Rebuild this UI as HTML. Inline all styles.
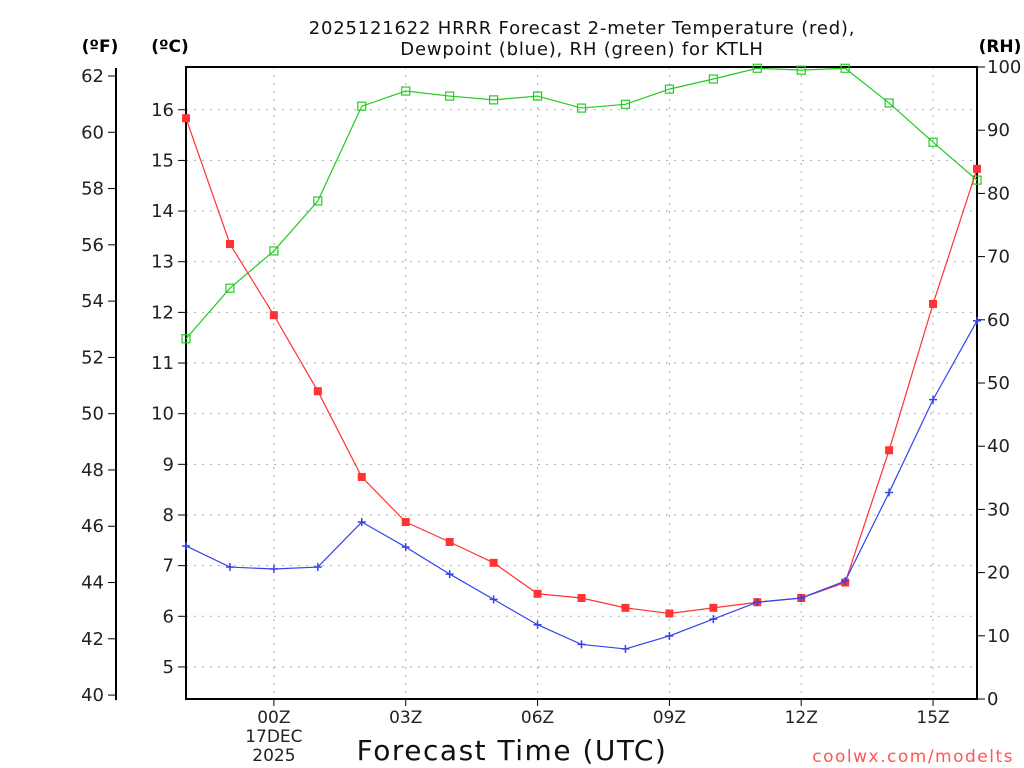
<!DOCTYPE html>
<html><head><meta charset="utf-8"><style>
body{margin:0;background:#fff;}
svg{display:block;font-family:"DejaVu Sans","Liberation Sans",sans-serif;}
</style></head><body>
<svg id="c" width="1024" height="768">
<g id="g"></g>
</svg>
<script>
const hours=["22","23","00","01","02","03","04","05","06","07","08","09","10","11","12","13","14","15","16"];
const tempF=[60.5,56.03,53.5,50.8,47.75,46.15,45.44,44.7,43.6,43.45,43.1,42.9,43.1,43.3,43.45,44.0,48.7,53.9,58.7];
const dewF=[45.3,44.55,44.48,44.55,46.15,45.26,44.3,43.4,42.5,41.8,41.64,42.1,42.7,43.3,43.45,44.05,47.2,50.5,53.3];
const rh=[57,65,70.9,78.8,93.8,96.2,95.4,94.8,95.4,93.5,94.1,96.5,98.1,99.8,99.5,99.8,94.3,88.1,82.1];
const fTicks=[40,42,44,46,48,50,52,54,56,58,60,62];
const cTicks=[5,6,7,8,9,10,11,12,13,14,15,16];
const rhTicks=[0,10,20,30,40,50,60,70,80,90,100];
const xLabels=[[2,"00Z"],[5,"03Z"],[8,"06Z"],[11,"09Z"],[14,"12Z"],[17,"15Z"]];

const L=186,R=977,T=67,B=699,NS="http://www.w3.org/2000/svg";
const X=i=>L+i*(R-L)/(hours.length-1);
const YF=f=>76+(62-f)*28.14;
const YC=c=>YF(c*1.8+32);
const YR=r=>B-r*(B-T)/100;
const g=document.getElementById('g');
function el(t,a,txt){const e=document.createElementNS(NS,t);for(const k in a)e.setAttribute(k,a[k]);if(txt!==undefined)e.textContent=txt;g.appendChild(e);return e;}

cTicks.forEach(c=>{const e=el('line',{x1:L,x2:R,y1:YC(c),y2:YC(c),stroke:'#aaa','stroke-dasharray':'2,6'});

});
xLabels.forEach(([i,s])=>{const e=el('line',{x1:X(i),x2:X(i),y1:T,y2:B,stroke:'#aaa','stroke-dasharray':'2,6'});


const t=el('line',{x1:X(i),x2:X(i),y1:B,y2:B+7,stroke:'#000'});


const l=el('text',{x:X(i),y:723,'text-anchor':'middle','font-size':17,fill:'#222'},s);

});
let d1=el('text',{x:X(2),y:742,'text-anchor':'middle','font-size':17,fill:'#222'},'17DEC');


let d2=el('text',{x:X(2),y:761,'text-anchor':'middle','font-size':17,fill:'#222'},'2025');



let fr=el('rect',{x:L,y:T,width:R-L,height:B-T,fill:'none',stroke:'#000','stroke-width':2});



let fa=el('line',{x1:116,x2:116,y1:YF(62)-8,y2:YF(40)+5,stroke:'#000','stroke-width':2});


fTicks.forEach(f=>{const t=el('line',{x1:108,x2:116,y1:YF(f),y2:YF(f),stroke:'#000'});


const l=el('text',{x:104,y:YF(f)+6,'text-anchor':'end','font-size':18,fill:'#222'},f);

});
cTicks.forEach(c=>{const t=el('line',{x1:178,x2:L,y1:YC(c),y2:YC(c),stroke:'#000'});


const l=el('text',{x:174,y:YC(c)+6,'text-anchor':'end','font-size':18,fill:'#222'},c);

});
rhTicks.forEach(r=>{const t=el('line',{x1:R,x2:R+8,y1:YR(r),y2:YR(r),stroke:'#000'});


const l=el('text',{x:987,y:YR(r)+6,'font-size':18,fill:'#222'},r);

});
[[100,'(ºF)',52],[170,'(ºC)',52],[1000,'(RH)',52]].forEach(([x,s,y])=>{const l=el('text',{x:x,y:y,'text-anchor':'middle','font-size':17,'font-weight':'bold'},s);

});

function series(vals,yf,color,name,marker){
 const p=el('polyline',{points:vals.map((v,i)=>X(i)+','+yf(v)).join(' '),fill:'none',stroke:color,'stroke-width':1.2});
 
 
 vals.forEach((v,i)=>{const x=X(i),y=yf(v);let m;
  if(marker==='fill'){m=el('rect',{x:x-4,y:y-4,width:8,height:8,fill:color});}
  else if(marker==='open'){m=el('rect',{x:x-4,y:y-4,width:8,height:8,fill:'none',stroke:color,'stroke-width':1.2});}
  else {m=el('path',{d:`M${x-4},${y}H${x+4}M${x},${y-4}V${y+4}`,stroke:color,'stroke-width':1.5});}
  
  });
}
series(rh,YR,'#22cc22','rh','open');
series(tempF,YF,'#f33','temperature','fill');
series(dewF,YF,'#3344ee','dewpoint','plus');

const tl=[[582,34,'2025121622 HRRR Forecast 2-meter Temperature (red),'],[582,55,'Dewpoint (blue), RH (green) for KTLH']];
tl.forEach(([x,y,s])=>{const t=el('text',{x:x,y:y,'text-anchor':'middle','font-size':18,'letter-spacing':'0.8',fill:'#111'},s);

});
let xt=el('text',{x:512,y:760,'text-anchor':'middle','font-size':28,'letter-spacing':'1.5',fill:'#111'},'Forecast Time (UTC)');


let cr=el('text',{x:1014,y:762,'text-anchor':'end','font-size':17,'letter-spacing':'1.5',fill:'#f55'},'coolwx.com/modelts');


</script>
</body></html>
